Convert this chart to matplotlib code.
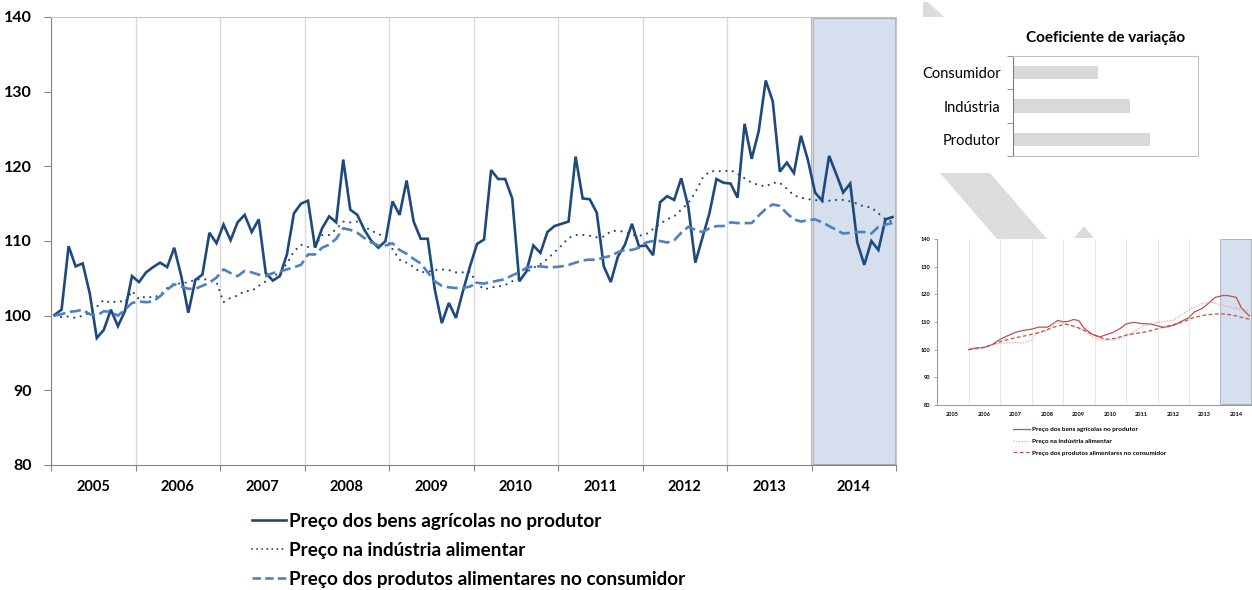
import matplotlib
matplotlib.use("Agg")
import matplotlib.pyplot as plt
from matplotlib.patches import Polygon
from matplotlib.lines import Line2D
import numpy as np

plt.rcParams['font.family'] = ['Lato', 'DejaVu Sans']

W, H = 1252, 590

years = [str(y) for y in range(2005, 2015)]

# monthly indices, Jan 2005 = 100
producer = [100.1, 100.8, 109.3, 106.6, 107.0, 103.0, 97.0, 98.1, 100.8, 98.6, 100.6, 105.3,
            104.5, 105.8, 106.5, 107.1, 106.5, 109.1, 105.3, 100.4, 104.8, 105.5, 111.1, 109.7,
            112.2, 110.1, 112.5, 113.5, 111.2, 112.9, 105.7, 104.7, 105.3, 108.2, 113.7, 115.0,
            115.4, 109.1, 111.7, 113.3, 112.5, 120.9, 114.2, 113.5, 111.5, 110.0, 109.1, 110.0,
            115.3, 113.5, 118.1, 112.6, 110.3, 110.3, 103.5, 99.0, 101.7, 99.7, 103.3, 106.6,
            109.6, 110.2, 119.5, 118.3, 118.3, 115.7, 104.6, 105.9, 109.4, 108.4, 111.2, 112.0,
            112.3, 112.6, 121.3, 115.7, 115.6, 113.8, 106.6, 104.5, 107.9, 109.5, 112.3, 109.3,
            109.4, 108.1, 115.2, 116.0, 115.5, 118.4, 114.6, 107.1, 110.4, 113.7, 118.3, 117.8,
            117.7, 115.8, 125.7, 121.0, 124.7, 131.5, 128.7, 119.3, 120.5, 119.1, 124.1, 120.8,
            116.5, 115.4, 121.4, 119.0, 116.5, 117.7, 109.8, 106.8, 110.0, 108.8, 112.9, 113.2]

industry = [100.0, 99.8, 99.9, 99.7, 100.0, 100.4, 101.2, 102.1, 101.7, 102.0, 101.8, 103.3,
            102.2, 102.6, 102.4, 102.8, 103.7, 104.3, 104.3, 104.5, 104.8, 104.9, 104.8, 104.5,
            101.8, 102.4, 102.7, 103.3, 103.3, 104.0, 104.6, 105.3, 105.7, 107.0, 108.6, 109.5,
            109.2, 109.4, 110.8, 110.8, 111.6, 112.6, 112.5, 112.6, 111.9, 111.4, 110.9, 110.6,
            108.9, 107.5, 107.1, 106.5, 105.8, 105.9, 106.1, 106.2, 106.1, 105.8, 105.8, 105.9,
            104.3, 103.5, 103.8, 103.9, 104.1, 104.6, 105.0, 105.8, 106.4, 106.9, 107.6, 108.5,
            109.4, 110.4, 110.8, 110.8, 110.7, 110.5, 110.6, 111.3, 111.4, 111.2, 110.8, 110.7,
            110.9, 111.6, 112.3, 112.9, 113.3, 114.2, 115.1, 116.5, 118.4, 119.3, 119.4, 119.3,
            119.5, 119.0, 118.4, 117.8, 117.5, 117.3, 117.8, 117.8, 117.0, 116.1, 115.8, 115.6,
            115.5, 115.3, 115.4, 115.5, 115.5, 115.3, 115.0, 114.6, 114.5, 113.7, 112.9, 112.6]

consumer = [100.0, 100.2, 100.5, 100.6, 100.8, 100.2, 100.0, 100.6, 100.5, 100.0, 100.8, 101.7,
            101.9, 101.8, 101.9, 102.6, 103.5, 104.2, 103.9, 103.6, 103.6, 104.0, 104.4, 105.1,
            106.2, 105.7, 105.3, 106.0, 105.8, 105.5, 105.3, 105.7, 105.9, 106.2, 106.5, 106.8,
            108.2, 108.2, 109.1, 109.5, 110.3, 111.7, 111.5, 111.1, 110.4, 109.8, 109.4, 109.4,
            109.7, 108.8, 108.3, 107.6, 107.0, 105.8, 104.6, 104.0, 103.8, 103.7, 103.7, 103.9,
            104.4, 104.3, 104.5, 104.7, 104.9, 105.4, 105.8, 106.4, 106.6, 106.6, 106.5, 106.5,
            106.6, 106.8, 107.1, 107.4, 107.5, 107.5, 107.8, 108.0, 108.5, 108.8, 108.8, 109.1,
            109.8, 110.0, 110.0, 109.8, 110.1, 111.1, 111.9, 111.5, 111.2, 111.7, 112.0, 112.0,
            112.5, 112.4, 112.4, 112.4, 113.4, 114.3, 114.9, 114.7, 113.7, 112.9, 112.6, 112.8,
            112.9, 112.5, 112.0, 111.5, 111.0, 111.1, 111.2, 111.2, 111.0, 111.9, 112.2, 112.4]

labels = ['Preço dos bens agrícolas no produtor',
          'Preço na indústria alimentar',
          'Preço dos produtos alimentares no consumidor']

# coefficient of variation panel
cv_names = ['Consumidor', 'Indústria', 'Produtor']
cv_values = [0.046, 0.063, 0.074]

# smoothed series (small panel), month index -> value
prod_ma_m = [12, 14, 16, 18, 21, 24, 27, 30, 33, 36, 39, 42, 44, 46, 48, 50, 52, 54, 56, 59, 62,
             65, 67, 70, 72, 75, 78, 81, 83, 86, 88, 91, 93, 96, 98, 101, 104, 106, 109, 111, 114,
             116, 119]
prod_ma = [100.0, 100.5, 100.7, 100.8, 101.8, 103.7, 105.1, 106.3, 107.0, 107.4, 108.2, 108.1,
           109.2, 110.6, 110.1, 110.2, 110.9, 110.5, 107.8, 105.6, 104.6, 105.6, 106.2, 107.8,
           109.3, 109.9, 109.4, 109.3, 108.9, 108.1, 108.3, 109.1, 110.2, 111.6, 113.6, 114.9,
           117.2, 118.9, 119.6, 119.5, 118.9, 115.0, 112.2]
ind_ma_m = [12, 18, 24, 28, 33, 36, 38, 42, 45, 49, 52, 56, 59, 62, 67, 71, 74, 78, 82, 86, 90,
            93, 97, 101, 104, 106, 110, 114, 116, 119]
ind_ma = [100.0, 101.0, 102.3, 102.5, 102.5, 103.5, 105.9, 107.1, 109.8, 109.5, 108.3, 107.1,
          104.7, 103.5, 103.5, 104.5, 105.9, 108.3, 109.5, 110.1, 110.7, 112.5, 114.9, 116.7,
          117.3, 116.7, 115.8, 114.9, 114.6, 114.0]
cons_ma_m = [12, 18, 24, 29, 35, 40, 45, 49, 53, 57, 61, 64, 68, 72, 76, 80, 83, 87, 91, 95, 98,
             102, 106, 110, 114, 116, 119]
cons_ma = [100.0, 100.8, 102.9, 104.1, 105.3, 106.5, 108.3, 109.2, 108.3, 106.5, 104.9, 103.7,
           104.1, 105.3, 105.9, 106.5, 107.3, 108.3, 109.3, 110.5, 111.7, 112.5, 112.9, 112.9,
           112.2, 111.7, 111.0]


def px_box(l, t, r, b):
    return [l / W, 1 - b / H, (r - l) / W, (b - t) / H]


def px_poly(pts):
    return [(x / W, 1 - y / H) for x, y in pts]


fig = plt.figure(figsize=(W / 100, H / 100), dpi=100, facecolor='white')

# grey arrow shapes in the background
arrow_grey = '#dcdcdc'
for pts in ([(923, 2), (928, 2), (944, 17), (923, 17)],
            [(940, 173), (990, 173), (1048, 240), (998, 240)],
            [(1074, 238), (1084, 226), (1094, 238)]):
    fig.patches.append(Polygon(px_poly(pts), closed=True, transform=fig.transFigure,
                               facecolor=arrow_grey, edgecolor='none', zorder=-5))

# ---- main chart ----
dark = '#1f497d'
mid = '#4f81bd'
ax = fig.add_axes(px_box(51, 17, 896, 465))
x = np.arange(len(producer)) + 0.5
ax.axvspan(108, 120, facecolor='#d5dfee', edgecolor='#a9adb3', lw=2.2, zorder=0.5)
ax.plot(x, producer, color=dark, lw=1.9, solid_joinstyle='miter', zorder=3)
ax.plot(x, industry, color=dark, lw=1.6, linestyle=(0, (0.01, 3.0)),
        dash_capstyle='round', zorder=3)
ax.plot(x, consumer, color=mid, lw=1.9, linestyle=(0, (4.2, 1.8)), zorder=3)

ax.set_xlim(0, 120)
ax.set_ylim(80, 140)
ax.set_yticks(range(80, 141, 10))
ax.set_xticks(range(0, 121, 12))
ax.set_xticklabels([])
ax.set_xticks(np.arange(6, 120, 12), minor=True)
ax.set_xticklabels(years, minor=True, fontsize=10.5, fontweight='bold')
ax.tick_params(axis='x', which='minor', length=0, pad=11)
ax.tick_params(axis='x', which='major', length=4, color='#868686', direction='out')
ax.tick_params(axis='y', length=5, color='#868686', direction='out', pad=9,
               labelsize=11.5)
for lab in ax.get_yticklabels():
    lab.set_fontweight('bold')
ax.grid(axis='x', which='major', color='#d9d9d9', lw=1)
ax.set_axisbelow(True)
for side in ('left', 'bottom'):
    ax.spines[side].set_color('#868686')
for side in ('top', 'right'):
    ax.spines[side].set_color('#c8c8c8')

handles = [Line2D([], [], color=dark, lw=1.9),
           Line2D([], [], color=dark, lw=1.4, linestyle=(0, (0.01, 2.6)), dash_capstyle='round'),
           Line2D([], [], color=mid, lw=1.9, linestyle=(0, (3.2, 1.6)))]
fig.legend(handles, labels, loc='upper left', bbox_to_anchor=(252 / W, 1 - 513 / H),
           frameon=False, prop={'weight': 'bold', 'size': 13.6},
           handlelength=1.8, handletextpad=0.15, labelspacing=0.63,
           borderpad=0, borderaxespad=0)

# ---- coefficient of variation panel ----
axb = fig.add_axes(px_box(1013, 56, 1198, 156))
yb = np.arange(len(cv_names))
axb.barh(yb, cv_values, height=0.4, color='#d9d9d9')
axb.set_ylim(2.5, -0.5)
axb.set_xlim(0, 0.1)
axb.set_xticks([])
axb.set_yticks(yb)
axb.set_yticklabels(cv_names, fontsize=10.5)
axb.set_yticks([-0.5, 0.5, 1.5, 2.5], minor=True)
axb.tick_params(axis='y', which='major', length=0, pad=9)
axb.tick_params(axis='y', which='minor', length=4, color='#7f7f7f')
axb.spines['left'].set_color('#7f7f7f')
for side in ('top', 'right', 'bottom'):
    axb.spines[side].set_color('#bfbfbf')
axb.set_title('Coeficiente de variação', fontsize=11, fontweight='bold', pad=10)

# ---- small smoothed panel ----
red = '#c0504d'
axs = fig.add_axes(px_box(937, 239, 1252, 405))
axs.axvspan(108, 120, facecolor='#d5dfee', edgecolor='#a9adb3', lw=1.2, zorder=0.5)
axs.plot(prod_ma_m, prod_ma, color=red, lw=0.9, zorder=3)
axs.plot(ind_ma_m, ind_ma, color='#e8a4a2', lw=0.9, linestyle=(0, (1, 1.2)), zorder=3)
axs.plot(cons_ma_m, cons_ma, color=red, lw=0.9, linestyle=(0, (3, 2)), zorder=3)
axs.set_xlim(0, 120)
axs.set_ylim(80, 140)
axs.set_yticks(range(80, 141, 10))
axs.set_xticks(range(0, 121, 12))
axs.set_xticklabels([])
axs.set_xticks(np.arange(6, 120, 12), minor=True)
axs.set_xticklabels(years, minor=True, fontsize=4, fontweight='bold')
axs.tick_params(axis='x', which='minor', length=0, pad=5)
axs.tick_params(axis='x', which='major', length=0)
axs.tick_params(axis='y', length=2, width=0.5, color='#868686', labelsize=4, pad=3)
for lab in axs.get_yticklabels():
    lab.set_fontweight('bold')
axs.grid(axis='x', which='major', color='#e3e3e3', lw=0.6)
axs.set_axisbelow(True)
for side in ('left', 'bottom'):
    axs.spines[side].set_color('#868686')
    axs.spines[side].set_linewidth(0.6)
for side in ('top', 'right'):
    axs.spines[side].set_visible(False)

small_handles = [Line2D([], [], color=red, lw=0.9),
                 Line2D([], [], color='#e8a4a2', lw=0.9, linestyle=(0, (1, 1.2))),
                 Line2D([], [], color=red, lw=0.9, linestyle=(0, (3, 2)))]
fig.legend(small_handles, labels, loc='upper left', bbox_to_anchor=(1013 / W, 1 - 427 / H),
           frameon=False, prop={'weight': 'bold', 'size': 4.6},
           handlelength=2.6, handletextpad=0.4, labelspacing=0.95,
           borderpad=0, borderaxespad=0)

fig.savefig('out.png', dpi=100, facecolor='white')
